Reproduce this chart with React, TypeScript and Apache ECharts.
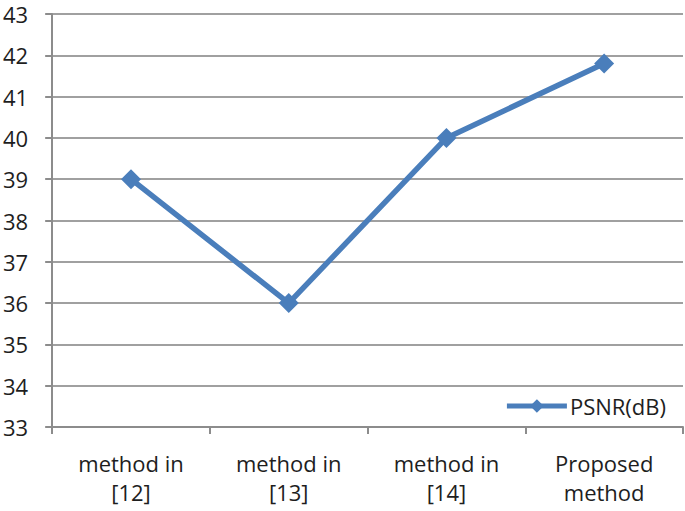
import React, { useEffect, useRef } from "react";
import * as echarts from "echarts";

const categories = ["method in\n[12]", "method in\n[13]", "method in\n[14]", "Proposed\nmethod"];
const psnr = [39, 36, 40, 41.8];
const seriesName = "PSNR(dB)";

export default function App() {
  const ref = useRef<HTMLDivElement>(null);
  useEffect(() => {
    const chart = echarts.init(ref.current!, null, { renderer: "svg" });
    const font = "'Open Sans', 'Noto Sans', sans-serif";
    chart.setOption({
      animation: false,
      backgroundColor: "#ffffff",
      grid: { left: 52, right: 2, top: 14, bottom: 84 },
      legend: {
        right: 14,
        top: 390,
        itemWidth: 60,
        itemHeight: 17,
        itemGap: 4,
        lineStyle: { width: 5 },
        textStyle: { fontSize: 22, color: "#1e1e1e", fontFamily: font, padding: [0, 0, 0, -2] },
        data: [seriesName],
      },
      xAxis: {
        type: "category",
        data: categories,
        boundaryGap: true,
        axisLine: { lineStyle: { color: "#8c8c8c", width: 2 } },
        axisTick: { show: true, length: 7, lineStyle: { color: "#8c8c8c", width: 2 } },
        axisLabel: {
          fontSize: 22,
          lineHeight: 29,
          color: "#1e1e1e",
          fontFamily: font,
          margin: 21,
          interval: 0,
        },
        splitLine: { show: false },
      },
      yAxis: {
        type: "value",
        min: 33,
        max: 43,
        interval: 1,
        axisLine: { show: true, lineStyle: { color: "#8c8c8c", width: 2 } },
        axisTick: { show: true, length: 7, lineStyle: { color: "#8c8c8c", width: 2 } },
        axisLabel: { fontSize: 22, color: "#1e1e1e", fontFamily: font, margin: 24 },
        splitLine: { show: true, lineStyle: { color: "#a0a0a0", width: 2 } },
      },
      series: [
        {
          name: seriesName,
          type: "line",
          data: psnr,
          symbol: "diamond",
          symbolSize: 20,
          itemStyle: { color: "#4a7ebb" },
          lineStyle: { color: "#4a7ebb", width: 5.5 },
        },
      ],
    });
    return () => chart.dispose();
  }, []);
  return (
    <div
      ref={ref}
      style={{ position: "fixed", left: 0, top: 0, width: 685, height: 511 }}
    />
  );
}
